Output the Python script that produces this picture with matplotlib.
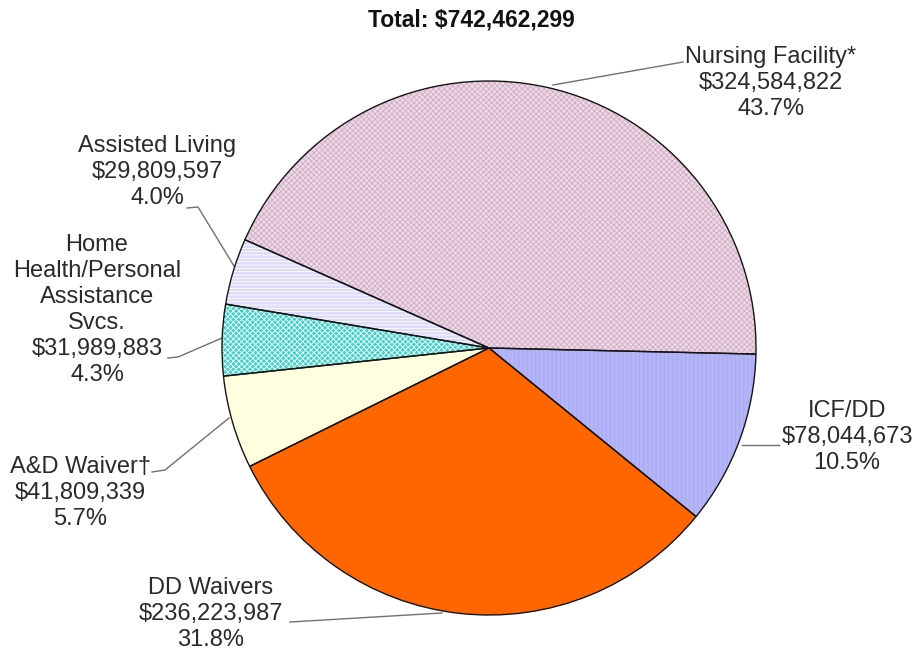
import matplotlib.pyplot as plt
from matplotlib.patches import Wedge

plt.rcParams['font.family'] = ['Liberation Sans', 'DejaVu Sans']
plt.rcParams['hatch.linewidth'] = 0.6

# spending by service type
title = "Total: $742,462,299"
services = ["Nursing Facility*", "Assisted Living",
            "Home\nHealth/Personal\nAssistance\nSvcs.",
            "A&D Waiver\u2020", "DD Waivers", "ICF/DD"]
amounts = [324584822, 29809597, 31989883, 41809339, 236223987, 78044673]
shares = [43.7, 4.0, 4.3, 5.7, 31.8, 10.5]

face_colors = ['#EFD8E6', '#DCDCF8', '#3ED2CA', '#FFFFE0', '#FF6600', '#B4B4F8']
hatches = ['xxxxxx', '-----', 'xxxxxx', None, None, '||||']
hatch_colors = ['#CDAEC3', 'white', 'white', None, None, '#A8A8EE']

# label block centres and leader lines (pixel coords, y down)
label_pos = [(771, 83), (157, 172), (97, 310), (80, 493), (211, 614), (847, 437)]
leaders = [
    [(553, 85), (683, 62)],
    [(187, 208), (198, 207), (234, 266)],
    [(168, 358), (178, 357), (222, 338)],
    [(152, 472), (165, 470), (229, 418)],
    [(290, 622), (442, 613)],
    [(742, 445), (779, 445)],
]

W, H = 917, 651
fig = plt.figure(figsize=(W / 100, H / 100), dpi=100)
ax = fig.add_axes([0, 0, 1, 1])

cx, cy, r = 489, 348, 267
wedges, _ = ax.pie(amounts, colors=face_colors, startangle=1.3, counterclock=False,
                   center=(cx, cy), radius=r, wedgeprops=dict(linewidth=0))

# hatch overlays, then outlines on top
for w, h, hc in zip(wedges, hatches, hatch_colors):
    if h:
        ax.add_patch(Wedge((cx, cy), r, w.theta1, w.theta2, facecolor='none',
                           edgecolor=hc, linewidth=0, hatch=h, zorder=2))
    ax.add_patch(Wedge((cx, cy), r, w.theta1, w.theta2, facecolor='none',
                       edgecolor='#151515', linewidth=1.0, zorder=3))

for name, amt, pct, (lx, ly) in zip(services, amounts, shares, label_pos):
    ax.text(lx, ly, f"{name}\n${amt:,}\n{pct:.1f}%", ha='center', va='center',
            multialignment='center', fontsize=17, color='#2a2a2a', linespacing=1.23)

for pts in leaders:
    xs, ys = zip(*pts)
    ax.plot(xs, ys, color='#707070', linewidth=1.0, zorder=1)

ax.text(471, 20, title, ha='center', va='center', fontsize=16.5, fontweight='bold',
        color='#111111')

ax.set_xlim(0, W)
ax.set_ylim(H, 0)
ax.set_aspect('equal')
ax.axis('off')

fig.savefig('out.png', dpi=100)
